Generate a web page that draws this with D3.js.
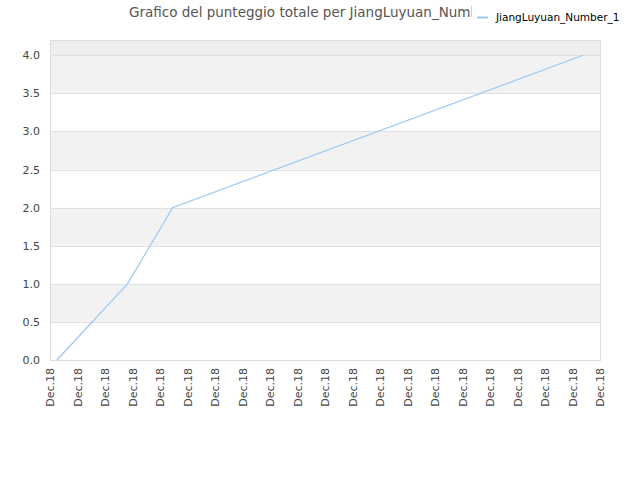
<!DOCTYPE html>
<html>
<head>
<meta charset="utf-8">
<script src="https://cdn.jsdelivr.net/npm/d3@7"></script>
<style>
  body { margin: 0; background: #fff; }
  text { font-family: "DejaVu Sans", sans-serif; }
</style>
</head>
<body>
<div id="chart"></div>
<script>
// Chart data (x = position along the time axis, in tick steps)
var seriesName = "JiangLuyuan_Number_1";
var titleText = "Grafico del punteggio totale per JiangLuyuan_Number_1";
var xPositions = [0.25, 2.82, 4.46, 19.38];
var scores = [0, 1, 2, 4];
var xTickValues = d3.range(0, 21);
var xTickLabels = xTickValues.map(function () { return "Dec.18"; });
var yTickValues = [0, 0.5, 1, 1.5, 2, 2.5, 3, 3.5, 4];

var width = 640, height = 480;
var plotLeft = 50, plotRight = 600, plotTop = 40, plotBottom = 360;

var svg = d3.select("#chart")
    .append("svg")
    .attr("width", width)
    .attr("height", height);

var x = d3.scaleLinear().domain([0, 20]).range([plotLeft, plotRight]);
var y = d3.scaleLinear().domain([0, 4.2]).range([plotBottom, plotTop]);

// Alternating background bands
var bands = [];
for (var i = 0; i < yTickValues.length; i++) {
    var lo = yTickValues[i];
    var hi = i + 1 < yTickValues.length ? yTickValues[i + 1] : 4.2;
    bands.push({ lo: lo, hi: hi, idx: i });
}
svg.selectAll(".band")
    .data(bands)
    .enter()
    .append("rect")
    .attr("class", "band")
    .attr("x", plotLeft)
    .attr("width", plotRight - plotLeft)
    .attr("y", d => y(d.hi))
    .attr("height", d => y(d.lo) - y(d.hi))
    .style("fill", d => d.idx === 8 ? "#eeeeee" : (d.idx % 2 === 1 ? "#f2f2f2" : "#ffffff"));

// Horizontal grid lines
svg.selectAll(".grid")
    .data(yTickValues)
    .enter()
    .append("line")
    .attr("x1", plotLeft)
    .attr("x2", plotRight)
    .attr("y1", d => Math.round(y(d)) + 0.5)
    .attr("y2", d => Math.round(y(d)) + 0.5)
    .style("stroke", "#e0e0e0");

// Plot frame
svg.append("rect")
    .attr("x", plotLeft + 0.5)
    .attr("y", plotTop + 0.5)
    .attr("width", plotRight - plotLeft)
    .attr("height", plotBottom - plotTop)
    .style("fill", "none")
    .style("stroke", "#dddddd");

// Y axis
var yAxis = d3.axisLeft(y)
    .tickValues(yTickValues)
    .tickSize(0)
    .tickPadding(10)
    .tickFormat(d3.format(".1f"));
var gy = svg.append("g")
    .attr("transform", "translate(" + plotLeft + ",0)")
    .call(yAxis);
gy.select(".domain").remove();
gy.selectAll("text")
    .style("font-size", "11px")
    .style("fill", "#444");

// X axis
var xAxis = d3.axisBottom(x)
    .tickValues(xTickValues)
    .tickSize(0)
    .tickFormat((d, i) => xTickLabels[i]);
var gx = svg.append("g")
    .attr("transform", "translate(0," + plotBottom + ")")
    .call(xAxis);
gx.select(".domain").remove();
gx.selectAll("text")
    .style("font-size", "11px")
    .style("fill", "#444")
    .style("text-anchor", "end")
    .attr("dy", "0.35em")
    .attr("transform", "translate(0,8) rotate(-90)")
    .attr("x", 0)
    .attr("y", 0);

// Series line
var line = d3.line()
    .x((d, i) => x(xPositions[i]))
    .y(d => y(d));
svg.append("path")
    .datum(scores)
    .attr("d", line)
    .style("fill", "none")
    .style("stroke", "#99c8f6")
    .style("stroke-width", 1.2);

// Title (cut off by the legend)
svg.append("clipPath")
    .attr("id", "titleClip")
    .append("rect")
    .attr("x", 0).attr("y", 0)
    .attr("width", 472).attr("height", 30);
svg.append("text")
    .attr("clip-path", "url(#titleClip)")
    .attr("x", 129)
    .attr("y", 17)
    .style("font-size", "13.5px")
    .style("fill", "#555")
    .text(titleText);

// Legend
svg.append("line")
    .attr("x1", 477).attr("x2", 488)
    .attr("y1", 17.5).attr("y2", 17.5)
    .style("stroke", "#99c8f6")
    .style("stroke-width", 2);
svg.append("text")
    .attr("x", 496)
    .attr("y", 21)
    .style("font-size", "10.5px")
    .style("fill", "#000")
    .text(seriesName);
</script>
</body>
</html>
